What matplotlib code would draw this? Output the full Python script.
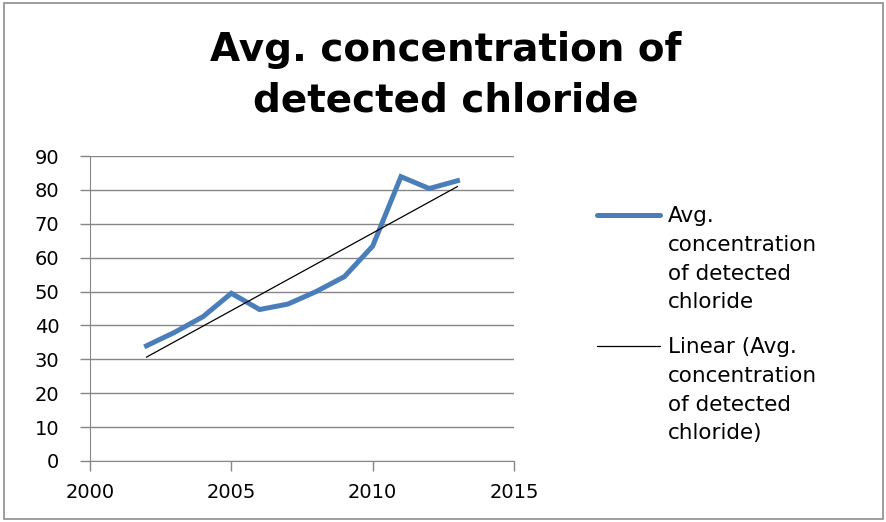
import numpy as np
import matplotlib
matplotlib.use("Agg")
from matplotlib import pyplot as plt
from matplotlib.patches import Rectangle
from matplotlib.lines import Line2D

years = [2002, 2003, 2004, 2005, 2006, 2007, 2008, 2009, 2010, 2011, 2012, 2013]
conc = [34.0, 38.0, 42.6, 49.5, 44.7, 46.3, 50.0, 54.4, 63.4, 83.9, 80.4, 82.7]
x_ticks = [2000, 2005, 2010, 2015]
y_ticks = [0, 10, 20, 30, 40, 50, 60, 70, 80, 90]

title = "Avg. concentration of\ndetected chloride"
series_label = "Avg.\nconcentration\nof detected\nchloride"
trend_label = "Linear (Avg.\nconcentration\nof detected\nchloride)"

BLUE = "#4a7ebb"
GRID = "#868686"

plt.rcParams['font.family'] = ['DejaVu Sans']

W, H = 887, 522
fig = plt.figure(figsize=(W / 100, H / 100), dpi=100)
fig.patches.append(Rectangle((0.004, 0.006), 0.992, 0.988, transform=fig.transFigure,
                             fill=False, edgecolor="#8c8c8c", linewidth=1.2))

ax = fig.add_axes([90 / W, 1 - 461 / H, (514 - 90) / W, (461 - 156) / H])

ax.plot(years, conc, color=BLUE, linewidth=3.6, solid_joinstyle="miter")

# linear trend line, as Excel does
k, b = np.polyfit(years, conc, 1)
yr = np.array([years[0], years[-1]])
ax.plot(yr, k * yr + b, color="black", linewidth=0.9)

ax.set_xlim(2000, 2015)
ax.set_ylim(0, 90)
ax.set_xticks(x_ticks)
ax.set_yticks(y_ticks)
ax.grid(axis="y", color=GRID, linewidth=1)
ax.set_axisbelow(True)
for s in ["top", "right"]:
    ax.spines[s].set_visible(False)
for s in ["left", "bottom"]:
    ax.spines[s].set_color(GRID)
ax.tick_params(colors=GRID, labelcolor="black", labelsize=14, length=7, width=1)
ax.tick_params(axis="y", pad=15)
ax.tick_params(axis="x", pad=9)

fig.text(0.502, 1 - 75 / H, title, ha="center", va="center", fontsize=28,
         fontweight="bold", linespacing=1.42)

# legend drawn by hand: handle sits on the first text line, like Excel
entries = [(series_label, BLUE, 3.6, 215), (trend_label, "black", 0.9, 346)]
for label, col, lw, ypix in entries:
    fig.lines.append(Line2D([597 / W, 660 / W], [1 - ypix / H] * 2, color=col,
                            linewidth=lw, solid_capstyle="round",
                            transform=fig.transFigure))
    fig.text(668 / W, 1 - (ypix - 9) / H, label, ha="left", va="top",
             fontsize=15.5, linespacing=1.55)

fig.savefig("out.png", dpi=100)
